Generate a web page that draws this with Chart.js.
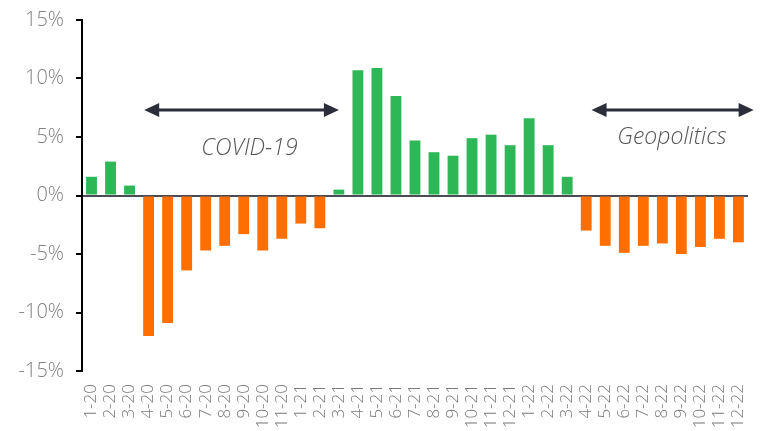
<!DOCTYPE html>
<html>
<head>
<meta charset="utf-8">
<script src="https://cdn.jsdelivr.net/npm/chart.js@4/dist/chart.umd.min.js"></script>
<style>
  html, body { margin: 0; padding: 0; background: #fff; }
  #wrap { width: 764px; height: 431px; }
</style>
</head>
<body>
<div id="wrap"><canvas id="c" width="764" height="431"></canvas></div>
<script>
// Monthly change, Jan 2020 – Dec 2022 (%)
const months = [
  '1-20','2-20','3-20','4-20','5-20','6-20','7-20','8-20','9-20','10-20','11-20',
  '1-21','2-21','3-21','4-21','5-21','6-21','7-21','8-21','9-21','10-21','11-21','12-21',
  '1-22','2-22','3-22','4-22','5-22','6-22','7-22','8-22','9-22','10-22','11-22','12-22'
];
const changes = [
  1.6, 2.9, 0.85, -12.0, -10.9, -6.4, -4.7, -4.3, -3.3, -4.7, -3.7,
  -2.4, -2.8, 0.5, 10.7, 10.9, 8.5, 4.7, 3.7, 3.4, 4.9, 5.2, 4.3,
  6.6, 4.3, 1.6, -3.0, -4.3, -4.9, -4.3, -4.1, -5.0, -4.4, -3.7, -4.0
];
const yTicks = [-15, -10, -5, 0, 5, 10, 15];

// Period markers: arrow span (category index), arrow level (%), label position
const periods = [
  { from: 2.77, to: 13.0, y: 7.3, label: 'COVID-19', labelAt: 8.3, labelY: 4.0 },
  { from: 26.28, to: 34.8, y: 7.3, label: 'Geopolitics', labelAt: 30.5, labelY: 5.0 }
];

const GREEN = '#2db757';
const ORANGE = '#ff6e00';
const FONT = "'Open Sans', 'Lato', sans-serif";

const periodArrows = {
  id: 'periodArrows',
  afterDatasetsDraw(chart) {
    const { ctx, scales: { x, y } } = chart;
    ctx.save();
    periods.forEach(p => {
      const x1 = x.getPixelForValue(p.from);
      const x2 = x.getPixelForValue(p.to);
      const yy = y.getPixelForValue(p.y);
      const head = 15, half = 7;
      ctx.strokeStyle = '#2b2d3a';
      ctx.fillStyle = '#2b2d3a';
      ctx.lineWidth = 3;
      ctx.beginPath();
      ctx.moveTo(x1 + head - 2, yy);
      ctx.lineTo(x2 - head + 2, yy);
      ctx.stroke();
      ctx.beginPath();
      ctx.moveTo(x1, yy);
      ctx.lineTo(x1 + head, yy - half);
      ctx.lineTo(x1 + head, yy + half);
      ctx.closePath();
      ctx.fill();
      ctx.beginPath();
      ctx.moveTo(x2, yy);
      ctx.lineTo(x2 - head, yy - half);
      ctx.lineTo(x2 - head, yy + half);
      ctx.closePath();
      ctx.fill();
      ctx.font = "italic 300 23px " + FONT;
      ctx.fillStyle = '#555555';
      ctx.textAlign = 'center';
      ctx.textBaseline = 'middle';
      ctx.fillText(p.label, x.getPixelForValue(p.labelAt), y.getPixelForValue(p.labelY));
    });
    ctx.restore();
  }
};

new Chart(document.getElementById('c'), {
  type: 'bar',
  data: {
    labels: months,
    datasets: [{
      data: changes,
      backgroundColor: changes.map(v => v >= 0 ? GREEN : ORANGE),
      barPercentage: 0.57,
      categoryPercentage: 1.0
    }]
  },
  options: {
    responsive: false,
    animation: false,
    layout: { padding: { top: 20, right: 12, left: 0, bottom: 0 } },
    plugins: { legend: { display: false }, tooltip: { enabled: false } },
    scales: {
      x: {
        grid: { display: false },
        border: { display: false },
        ticks: {
          color: '#7a7a7a',
          font: { family: FONT, size: 17, weight: 300 },
          minRotation: 90,
          maxRotation: 90,
          autoSkip: false,
          padding: 5
        },
        afterFit(scale) { scale.height = 60; }
      },
      y: {
        min: -15,
        max: 15,
        afterBuildTicks(scale) { scale.ticks = yTicks.map(v => ({ value: v })); },
        grid: {
          drawOnChartArea: true,
          color: ctx => (ctx.tick && ctx.tick.value === 0) ? '#4a4b55' : 'rgba(0,0,0,0)',
          lineWidth: 2,
          tickColor: '#000000',
          tickLength: 6,
          tickWidth: 2
        },
        border: { display: true, color: '#000000', width: 2 },
        ticks: {
          color: '#808080',
          font: { family: FONT, size: 20, weight: 300, lineHeight: 0.6 },
          padding: 12,
          callback: v => v + '%'
        },
        afterFit(scale) { scale.width = 82; }
      }
    }
  },
  plugins: [periodArrows]
});
</script>
</body>
</html>
